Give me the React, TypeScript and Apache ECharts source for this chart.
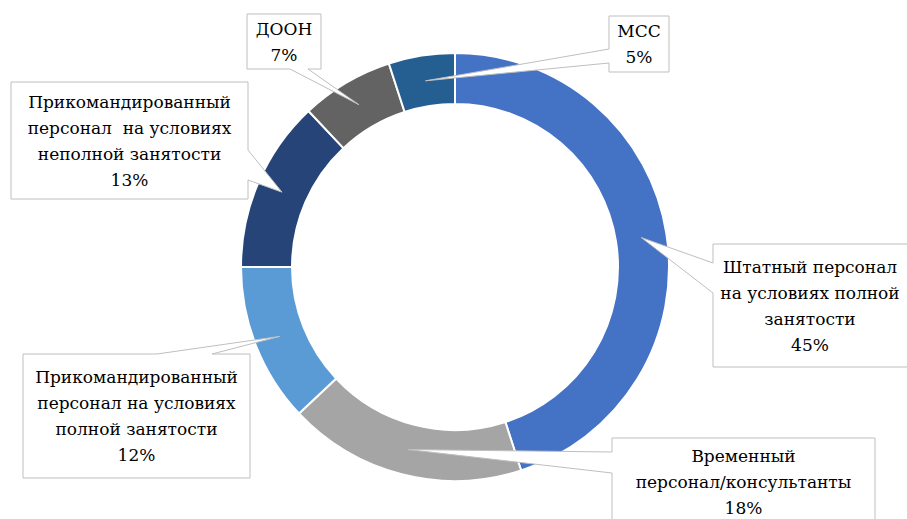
import React, { useEffect, useRef } from "react";
import * as echarts from "echarts";

const categories = [
  "Штатный персонал\nна условиях полной\nзанятости",
  "Временный\nперсонал/консультанты",
  "Прикомандированный\nперсонал на условиях\nполной занятости",
  "Прикомандированный\nперсонал  на условиях\nнеполной занятости",
  "ДООН",
  "МСС",
];
const values = [45, 18, 12, 13, 7, 5];
const colors = ["#4472C4", "#A5A5A5", "#5B9BD5", "#264478", "#636363", "#255E91"];

// callout boxes: [x0, y0, x1, y1], side of the pointer, pointer base range along that side
const boxes: [number, number, number, number][] = [
  [713, 244, 912, 367],
  [612, 438, 875, 526],
  [23, 354, 250, 478],
  [11, 82, 248, 199],
  [247, 14, 321, 69],
  [609, 16, 669, 72],
];
const sides = ["left", "left", "top", "right", "bottom", "left"];
const bases: [number, number][] = [
  [263, 293],
  [452, 473],
  [157, 212],
  [150, 180],
  [290, 308],
  [49, 63],
];

const CX = 455;
const CY = 267;
const R_IN = 163;
const R_OUT = 214;
const FONT_FAMILY = "DejaVu Serif";

export default function App() {
  const ref = useRef<HTMLDivElement>(null);
  useEffect(() => {
    if (!ref.current) return;
    const chart = echarts.init(ref.current, null, { renderer: "svg" });
    const total = values.reduce((a, b) => a + b, 0);
    const rm = (R_IN + R_OUT) / 2;
    let cum = 0;
    const graphics: any[] = [];
    values.forEach((v, i) => {
      const th = ((cum + v / 2) / total) * Math.PI * 2;
      cum += v;
      const tip = [CX + rm * Math.sin(th), CY - rm * Math.cos(th)];
      const [x0, y0, x1, y1] = boxes[i];
      const [a, b] = bases[i];
      const s = sides[i];
      const pts: number[][] = [];
      pts.push([x0, y0]);
      if (s === "top") pts.push([a, y0], tip, [b, y0]);
      pts.push([x1, y0]);
      if (s === "right") pts.push([x1, a], tip, [x1, b]);
      pts.push([x1, y1]);
      if (s === "bottom") pts.push([b, y1], tip, [a, y1]);
      pts.push([x0, y1]);
      if (s === "left") pts.push([x0, b], tip, [x0, a]);
      const pct = Math.round((v / total) * 100) + "%";
      graphics.push({
        type: "group",
        z: 10,
        children: [
          {
            type: "polygon",
            z: 10,
            shape: { points: pts },
            style: { fill: "#ffffff", stroke: "#BFBFBF", lineWidth: 1 },
          },
          {
            type: "text",
            z: 11,
            x: (x0 + Math.min(x1, 907)) / 2,
            y: (y0 + y1) / 2,
            style: {
              text: categories[i] + "\n" + pct,
              align: "center",
              verticalAlign: "middle",
              fontFamily: FONT_FAMILY,
              fontSize: 17,
              lineHeight: 26,
              fill: "#000000",
            },
          },
        ],
      });
    });
    chart.setOption({
      animation: false,
      backgroundColor: "#ffffff",
      series: [
        {
          type: "pie",
          center: [CX, CY],
          radius: [R_IN, R_OUT],
          startAngle: 90,
          clockwise: true,
          label: { show: false },
          labelLine: { show: false },
          emphasis: { disabled: true },
          itemStyle: { borderColor: "#ffffff", borderWidth: 2 },
          data: values.map((v, i) => ({
            value: v,
            name: categories[i],
            itemStyle: { color: colors[i] },
          })),
        },
      ],
      graphic: graphics,
    });
    return () => chart.dispose();
  }, []);
  return <div ref={ref} style={{ width: 907, height: 519, position: "absolute", left: 0, top: 0 }} />;
}
